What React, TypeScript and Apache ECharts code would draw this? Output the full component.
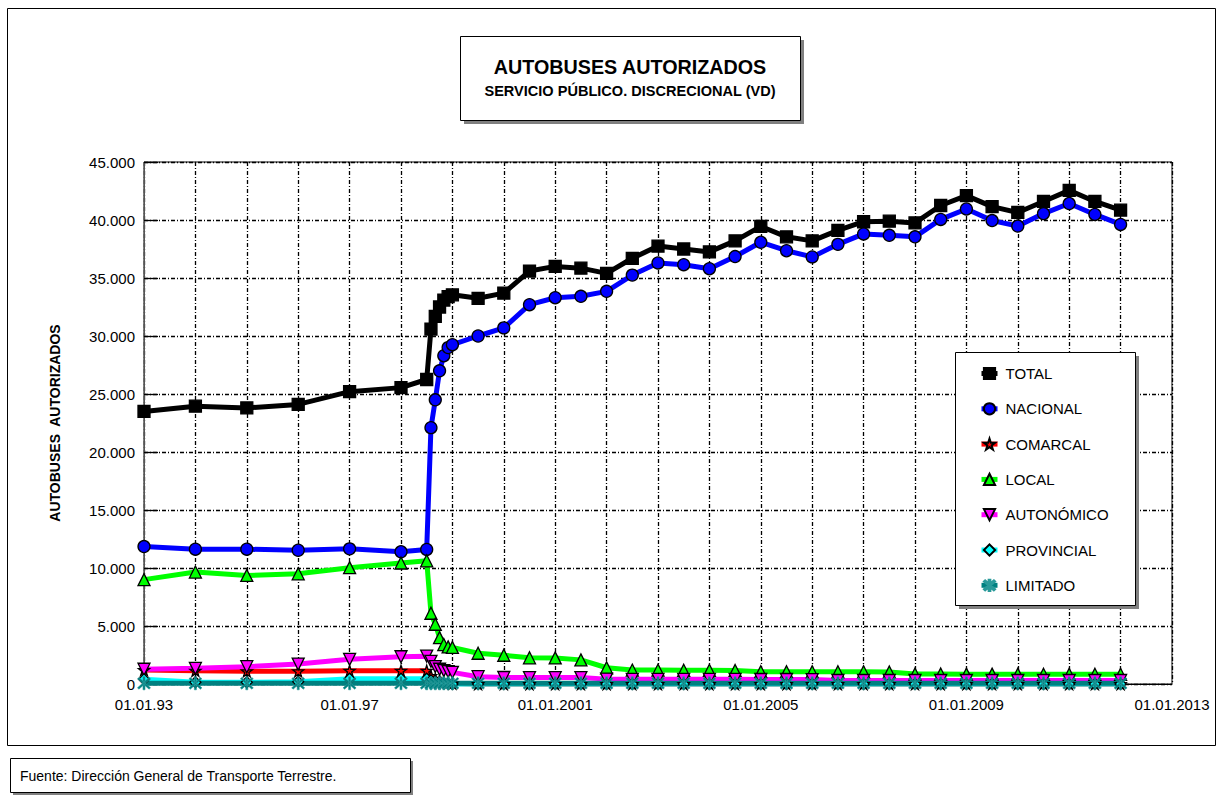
import React, { useEffect, useRef } from "react";
import * as echarts from "echarts";

// Dates as decimal years (01.01 = .0, 01.07 = .5; monthly during 2nd half of 1998)
const years = [
  1993, 1994, 1995, 1996, 1997, 1998, 1998.5, 1998.583, 1998.667, 1998.75, 1998.833, 1998.917, 1999,
  1999.5, 2000, 2000.5, 2001, 2001.5, 2002, 2002.5, 2003, 2003.5, 2004, 2004.5, 2005, 2005.5,
  2006, 2006.5, 2007, 2007.5, 2008, 2008.5, 2009, 2009.5, 2010, 2010.5, 2011, 2011.5, 2012,
];

const total = [
  23500, 23950, 23800, 24100, 25200, 25550, 26250, 30600, 31700, 32500, 33100, 33400, 33550,
  33250, 33700, 35600, 36000, 35850, 35400, 36700, 37750, 37500, 37250, 38200, 39450, 38550,
  38200, 39100, 39850, 39900, 39750, 41250, 42100, 41150, 40650, 41600, 42550, 41600, 40850,
];

const nacional = [
  11850, 11620, 11620, 11530, 11650, 11400, 11600, 22100, 24500, 27000, 28300, 29000, 29250,
  30000, 30700, 32700, 33300, 33420, 33850, 35250, 36300, 36150, 35800, 36850, 38080, 37350,
  36820, 37900, 38800, 38680, 38550, 40050, 40950, 39950, 39480, 40550, 41420, 40480, 39620,
];

const comarcal = [
  1200, 1150, 1100, 1100, 1150, 1150, 1150, 700, 450, 300, 200, 100, 50,
  0, 0, 0, 0, 0, 0, 0, 0, 0, 0, 0, 0, 0,
  0, 0, 0, 0, 0, 0, 0, 0, 0, 0, 0, 0, 0,
];

const local = [
  9000, 9650, 9360, 9500, 10030, 10430, 10620, 6100, 5150, 4000, 3400, 3200, 3150,
  2650, 2480, 2260, 2250, 2080, 1400, 1200, 1200, 1180, 1180, 1170, 1060, 1060,
  1050, 1050, 1050, 1040, 860, 860, 850, 850, 850, 840, 840, 840, 840,
];

const autonomico = [
  1270, 1350, 1490, 1720, 2130, 2350, 2400, 1950, 1500, 1270, 1150, 1070, 1000,
  630, 560, 550, 550, 550, 420, 400, 400, 400, 400, 400, 390, 390,
  380, 300, 300, 300, 300, 300, 300, 300, 300, 300, 300, 300, 300,
];

const provincial = [
  400, 150, 150, 200, 450, 450, 450, 300, 200, 100, 50, 20, 0,
  0, 0, 0, 0, 0, 0, 0, 0, 0, 0, 0, 0, 0,
  0, 0, 0, 0, 0, 0, 0, 0, 0, 0, 0, 0, 0,
];

const limitado = [
  60, 60, 60, 60, 60, 60, 60, 60, 60, 60, 60, 60, 60,
  60, 60, 60, 60, 60, 60, 60, 60, 60, 60, 60, 60, 60,
  60, 60, 60, 60, 60, 60, 60, 60, 60, 60, 60, 60, 60,
];

const seriesNames = ["TOTAL", "NACIONAL", "COMARCAL", "LOCAL", "AUTONÓMICO", "PROVINCIAL", "LIMITADO"];
const xTickLabels = ["01.01.93", "01.01.97", "01.01.2001", "01.01.2005", "01.01.2009", "01.01.2013"];
const yTickLabels = ["0", "5.000", "10.000", "15.000", "20.000", "25.000", "30.000", "35.000", "40.000", "45.000"];

const FONT = "'Liberation Sans', Arial, sans-serif";

const STAR = "path://M5,0 L6.2,3.6 L10,3.6 L6.9,5.9 L8.1,9.5 L5,7.3 L1.9,9.5 L3.1,5.9 L0,3.6 L3.8,3.6 Z";
const DOWN_TRI = "path://M0,0 L10,0 L5,9 Z";
const ASTER =
  "path://M4.3,0 H5.7 V10 H4.3 Z M0.5,1.5 L1.5,0.5 L9.5,8.5 L8.5,9.5 Z M8.5,0.5 L9.5,1.5 L1.5,9.5 L0.5,8.5 Z";

function mk(
  name: string,
  values: number[],
  color: string,
  symbol: string,
  size: number,
  fill: string,
  border = "#000",
  borderWidth = 1.3
) {
  return {
    name,
    type: "line",
    data: years.map((y, i) => [y, values[i]]),
    symbol,
    symbolSize: size,
    clip: false,
    lineStyle: { color, width: 5 },
    itemStyle: { color: fill, borderColor: border, borderWidth },
    emphasis: { disabled: true },
  };
}

export default function App() {
  const ref = useRef<HTMLDivElement>(null);
  useEffect(() => {
    const chart = echarts.init(ref.current!, null, { renderer: "svg" });
    chart.setOption({
      animation: false,
      backgroundColor: "#fff",
      textStyle: { fontFamily: FONT },
      grid: { left: 144, right: 46, top: 162, bottom: 117, show: true, borderColor: "#000", borderWidth: 1 },
      xAxis: {
        type: "value",
        min: 1993,
        max: 2013,
        interval: 1,
        axisLine: { show: true, onZero: false, lineStyle: { color: "#000", width: 1 } },
        axisTick: { show: false },
        axisLabel: {
          margin: 13,
          fontSize: 15,
          color: "#000",
          fontFamily: FONT,
          formatter: (v: number) => {
            const k = Math.round(v - 1993);
            return k % 4 === 0 ? xTickLabels[k / 4] : "";
          },
        },
        splitLine: { show: true, lineStyle: { color: "#000", width: 1.3, type: [4, 2, 1, 2] } },
      },
      yAxis: {
        type: "value",
        min: 0,
        max: 45000,
        interval: 5000,
        name: "AUTOBUSES  AUTORIZADOS",
        nameLocation: "middle",
        nameGap: 82,
        nameRotate: 90,
        nameTextStyle: { fontSize: 14, fontWeight: "bold", color: "#000", fontFamily: FONT },
        axisLine: { show: true, lineStyle: { color: "#555", width: 1 } },
        axisTick: { show: true, inside: true, length: 14, lineStyle: { color: "#000", width: 1.3 } },
        axisLabel: {
          margin: 9,
          fontSize: 15,
          color: "#000",
          fontFamily: FONT,
          formatter: (v: number) => yTickLabels[Math.round(v / 5000)],
        },
        splitLine: { show: true, lineStyle: { color: "#000", width: 1.3, type: [4, 2, 1, 2] } },
      },
      legend: {
        orient: "vertical",
        left: 974,
        top: 361,
        padding: 5,
        itemWidth: 16,
        itemHeight: 14,
        itemGap: 20.3,
        z: 20,
        data: seriesNames,
        lineStyle: { width: 5 },
        textStyle: { fontSize: 15, color: "#000", fontFamily: FONT, lineHeight: 15, padding: [0, 0, 0, 3] },
      },
      graphic: [
        { type: "rect", z: 0, silent: true, shape: { x: 7.5, y: 8.5, width: 1208, height: 737 }, style: { fill: "none", stroke: "#000", lineWidth: 1 } },
        // title box
        { type: "rect", z: 10, shape: { x: 464, y: 40, width: 340, height: 84 }, style: { fill: "#808080" } },
        { type: "rect", z: 10, shape: { x: 460.5, y: 36.5, width: 340, height: 84 }, style: { fill: "#fff", stroke: "#000", lineWidth: 1 } },
        { type: "text", z: 11, x: 630, y: 67, scaleX: 0.94, style: { x: 0, y: 0, text: "AUTOBUSES AUTORIZADOS", align: "center", verticalAlign: "middle", font: `bold 21px ${FONT}`, fill: "#000" } },
        { type: "text", z: 11, x: 630, y: 91, scaleX: 0.97, style: { x: 0, y: 0, text: "SERVICIO PÚBLICO. DISCRECIONAL (VD)", align: "center", verticalAlign: "middle", font: `bold 15px ${FONT}`, fill: "#000" } },
        // legend box
        { type: "rect", z: 10, shape: { x: 959, y: 356, width: 180, height: 253 }, style: { fill: "#808080" } },
        { type: "rect", z: 10, shape: { x: 955.5, y: 352.5, width: 180, height: 253 }, style: { fill: "#fff", stroke: "#000", lineWidth: 1 } },
        // footer
        { type: "rect", z: 10, shape: { x: 13, y: 761, width: 400, height: 34 }, style: { fill: "#808080" } },
        { type: "rect", z: 10, shape: { x: 10.5, y: 758.5, width: 400, height: 34 }, style: { fill: "#fff", stroke: "#000", lineWidth: 1 } },
        { type: "text", z: 11, style: { x: 20, y: 776, text: "Fuente: Dirección General de Transporte Terrestre.", align: "left", verticalAlign: "middle", font: `14px ${FONT}`, fill: "#000" } },
      ],
      series: [
        mk(seriesNames[0], total, "#000000", "rect", 12, "#000000"),
        mk(seriesNames[1], nacional, "#0000FF", "circle", 12, "#0000FF"),
        mk(seriesNames[2], comarcal, "#FF0000", STAR, 11, "#FF0000"),
        mk(seriesNames[3], local, "#00FF00", "triangle", 12, "#00FF00"),
        mk(seriesNames[4], autonomico, "#FF00FF", DOWN_TRI, 12, "#FF00FF"),
        mk(seriesNames[5], provincial, "#00FFFF", "diamond", 11, "#00FFFF"),
        mk(seriesNames[6], limitado, "#008080", ASTER, 13, "#008080", "#2a9a9a", 0.6),
      ],
    });
    return () => chart.dispose();
  }, []);
  return (
    <div
      ref={ref}
      style={{ position: "fixed", left: 0, top: 0, width: 1218, height: 801, background: "#fff" }}
    />
  );
}
